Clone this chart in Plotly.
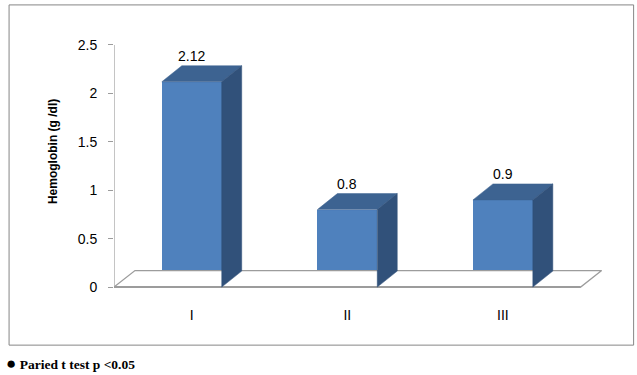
import plotly.graph_objects as go

# ---- data ----
categories = ["I", "II", "III"]
hemoglobin = [2.12, 0.8, 0.9]
y_ticks = [0, 0.5, 1, 1.5, 2, 2.5]
y_tick_labels = ["0", "0.5", "1", "1.5", "2", "2.5"]
y_title = "Hemoglobin (g /dl)"
footnote_bullet = "●"
footnote = "Paried t test p <0.05"

# ---- geometry / style ----
W, H = 637, 375
XR = [-0.5, 2.65]
YR = [-0.03, 2.52]
ML = 114
px_per_x = 155.67
px_per_y = 96.8
plot_w = (XR[1] - XR[0]) * px_per_x
MR = W - ML - plot_w
MT = 287 - YR[1] * px_per_y
plot_h = (YR[1] - YR[0]) * px_per_y
MB = H - MT - plot_h

def paper_x(px):
    return (px - ML) / plot_w

def paper_y(py):
    return (MT + plot_h - py) / plot_h

bar_w = 0.385
dx = 20 / px_per_x
dy = 16 / px_per_y
fdx = 21 / px_per_x
fdy = 16.5 / px_per_y

FRONT = "#4F81BD"
TOP = "#3D6391"
SIDE = "#31517A"
GRID = "#9C9C9C"
FONT = "Liberation Sans"

fig = go.Figure()

# floor
fx = [XR[0], XR[0] + fdx, 2.5 + fdx, 2.5, XR[0]]
fy = [0, fdy, fdy, 0, 0]
fig.add_trace(go.Scatter(x=fx, y=fy, mode="lines", fill="toself",
                         fillcolor="white", line=dict(color=GRID, width=1.3),
                         hoverinfo="skip", showlegend=False))
fig.add_trace(go.Scatter(x=[XR[0], 2.5], y=[0, 0], mode="lines",
                         line=dict(color=GRID, width=2),
                         hoverinfo="skip", showlegend=False))

# bars: front faces
xs = list(range(len(categories)))
fig.add_trace(go.Bar(x=xs, y=hemoglobin, width=bar_w,
                     marker=dict(color=FRONT, line=dict(width=0)),
                     showlegend=False, hoverinfo="skip"))

# top and side faces
for i, v in enumerate(hemoglobin):
    l = i - bar_w / 2
    r = i + bar_w / 2
    fig.add_trace(go.Scatter(
        x=[l, l + dx, r + dx, r, l], y=[v, v + dy, v + dy, v, v],
        mode="lines", fill="toself", fillcolor=TOP,
        line=dict(color=TOP, width=0.5), hoverinfo="skip", showlegend=False))
    fig.add_trace(go.Scatter(
        x=[r, r + dx, r + dx, r, r], y=[0, dy, v + dy, v, 0],
        mode="lines", fill="toself", fillcolor=SIDE,
        line=dict(color=SIDE, width=0.5), hoverinfo="skip", showlegend=False))
    fig.add_annotation(x=i, y=v, xref="x", yref="y", text=str(v),
                       showarrow=False, yshift=26, yanchor="middle",
                       font=dict(family=FONT, size=14, color="black"))

# y axis line
fig.add_trace(go.Scatter(x=[XR[0], XR[0]], y=[0, 2.5], mode="lines",
                         line=dict(color=GRID, width=1.2),
                         hoverinfo="skip", showlegend=False, cliponaxis=False))

fig.update_layout(
    width=W, height=H, autosize=False,
    margin=dict(l=ML, r=MR, t=MT, b=MB, pad=0),
    paper_bgcolor="white", plot_bgcolor="rgba(0,0,0,0)",
    bargap=0,
    xaxis=dict(range=XR, tickvals=xs, ticktext=categories, showgrid=False,
               zeroline=False, showline=False, ticks="",
               ticklabelstandoff=15,
               tickfont=dict(family=FONT, size=14, color="black")),
    yaxis=dict(range=YR, tickvals=y_ticks, ticktext=y_tick_labels,
               showgrid=False, zeroline=False, showline=False,
               ticks="outside", ticklen=5, tickcolor=GRID, tickwidth=1,
               ticklabelstandoff=8,
               tickfont=dict(family=FONT, size=14, color="black")),
    shapes=[dict(type="rect", xref="paper", yref="paper",
                 x0=paper_x(9), x1=paper_x(634), y0=paper_y(345), y1=paper_y(5),
                 line=dict(color="#868686", width=1), fillcolor="rgba(0,0,0,0)",
                 layer="below")],
)

fig.add_annotation(xref="paper", yref="paper", x=paper_x(53), y=paper_y(152),
                   text=f"<b>{y_title}</b>", textangle=-90, showarrow=False,
                   xanchor="center", yanchor="middle",
                   font=dict(family=FONT, size=12, color="black"))
fig.add_annotation(xref="paper", yref="paper", x=paper_x(4), y=paper_y(363),
                   text=f"<span style='font-size:17px'>{footnote_bullet}</span> <b>{footnote}</b>",
                   showarrow=False, xanchor="left", yanchor="middle",
                   font=dict(family="Liberation Serif", size=13.5, color="black"))

fig.write_html("out.html", config={"displayModeBar": False},
               post_script="document.body.style.margin='0px';document.body.style.overflow='hidden';")
